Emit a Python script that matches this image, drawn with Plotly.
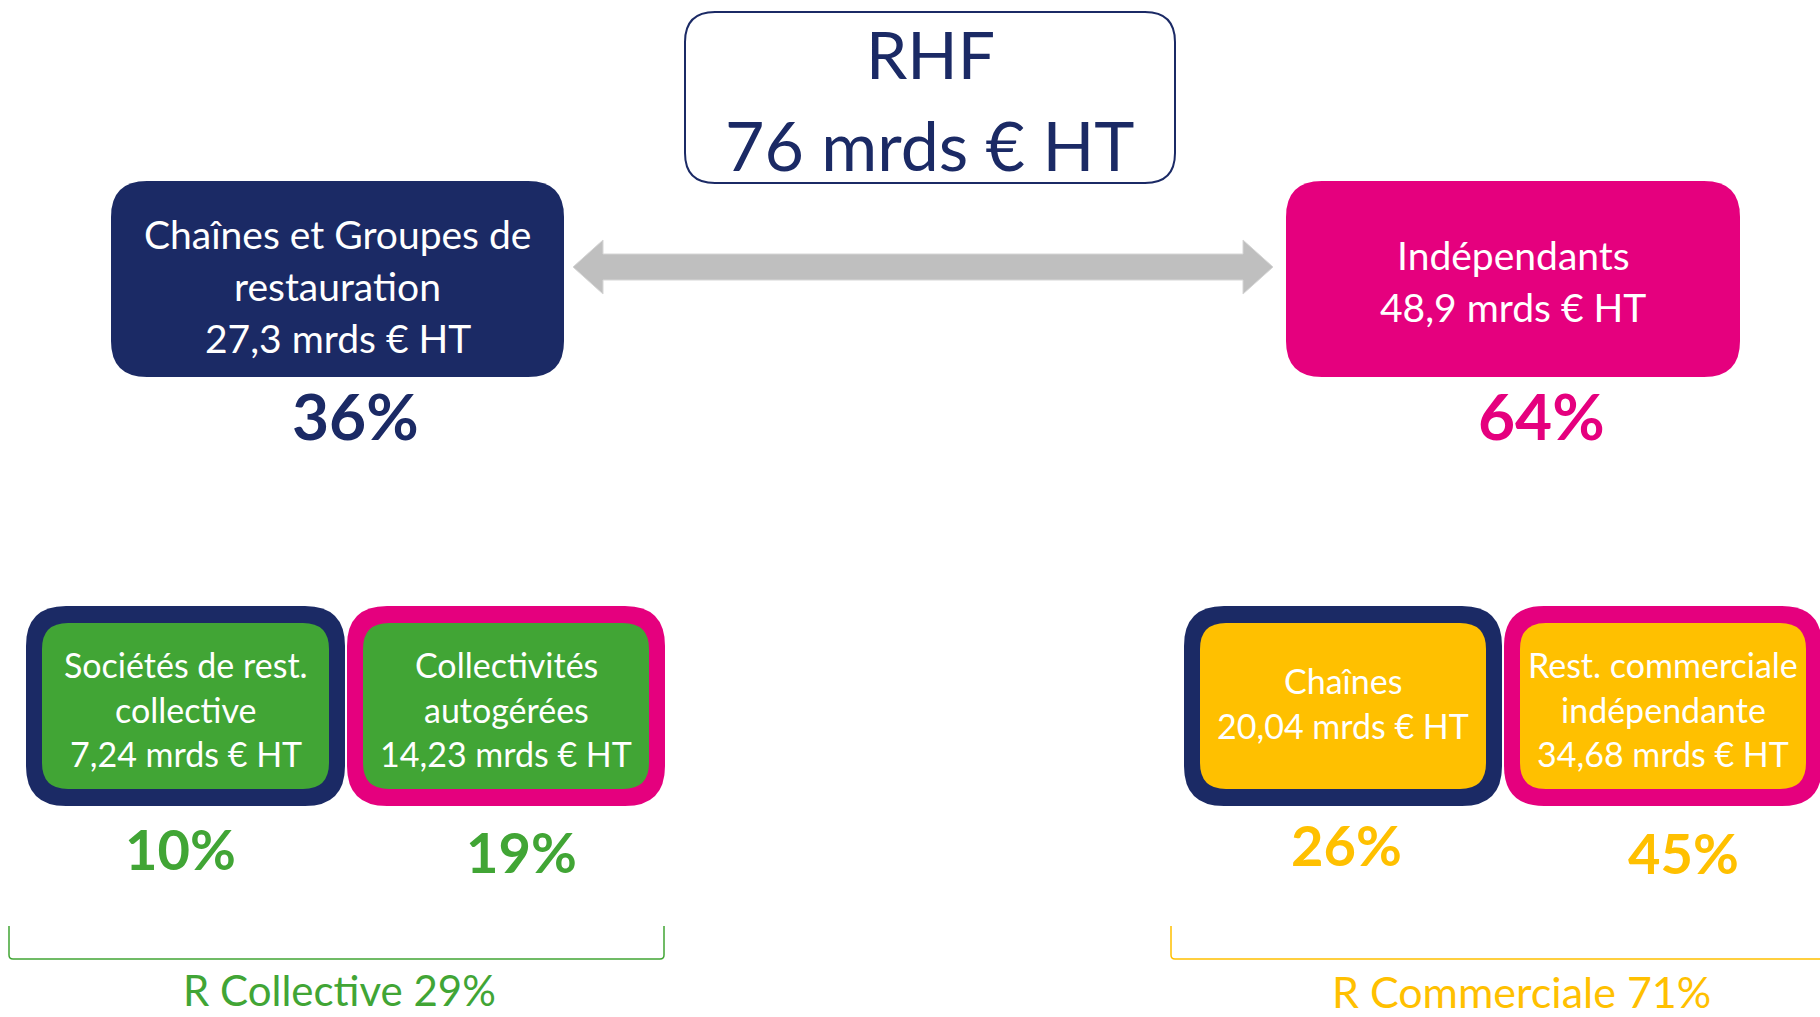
import plotly.graph_objects as go

# ---- data -----------------------------------------------------------------
TOTAL_LABEL = "RHF"
TOTAL_VALUE = "76"
UNIT = "mrds € HT"

SEGMENTS = ["Chaînes et Groupes de\nrestauration", "Indépendants"]
SEGMENT_VALUES = ["27,3", "48,9"]
SEGMENT_SHARES = [36, 64]

SUB_LABELS = ["Sociétés de rest.\ncollective", "Collectivités\nautogérées",
              "Chaînes", "Rest. commerciale\nindépendante"]
SUB_VALUES = ["7,24", "14,23", "20,04", "34,68"]
SUB_SHARES = [10, 19, 26, 45]

GROUPS = ["R Collective", "R Commerciale"]
GROUP_SHARES = [29, 71]

# ---- style ----------------------------------------------------------------
NAVY = "#1B2A65"
PINK = "#E5007E"
GREEN = "#41A535"
YELLOW = "#FFC000"
GREY = "#BFBFBF"
FONT = "Lato, Open Sans, sans-serif"

W, H = 1820, 1017

fig = go.Figure()
shapes = []
annotations = []


def rrect(x0, y0, x1, y1, r):
    return (f"M {x0+r} {y0} L {x1-r} {y0} Q {x1} {y0} {x1} {y0+r} "
            f"L {x1} {y1-r} Q {x1} {y1} {x1-r} {y1} L {x0+r} {y1} "
            f"Q {x0} {y1} {x0} {y1-r} L {x0} {y0+r} Q {x0} {y0} {x0+r} {y0} Z")


def box(x0, y0, x1, y1, r, fill, line=None, lw=0):
    shapes.append(dict(type="path", path=rrect(x0, y0, x1, y1, r),
                       fillcolor=fill, line=dict(color=line or fill, width=lw),
                       layer="below"))


def text(x, y, s, size, color, bold=False):
    if bold:
        s = f"<b>{s}</b>"
    annotations.append(dict(x=x, y=y, text=s, showarrow=False,
                            xanchor="center", yanchor="middle",
                            font=dict(family=FONT, size=size, color=color)))


def lines(cx, cy, label, value, size, spacing):
    rows = label.split("\n") + [f"{value} {UNIT}"]
    top = cy - spacing * (len(rows) - 1) / 2
    for i, row in enumerate(rows):
        text(cx, top + i * spacing, row, size, "white")


# top total box
box(685, 12, 1175, 183, 30, "white", NAVY, 2)
text(930, 53, TOTAL_LABEL, 66, NAVY)
text(930, 144, f"{TOTAL_VALUE} {UNIT}", 68, NAVY)

# double arrow
ax0, ax1, ay = 573, 1273, 267
hl, hw, sw = 30, 27, 13
shapes.append(dict(
    type="path",
    path=(f"M {ax0} {ay} L {ax0+hl} {ay-hw} L {ax0+hl} {ay-sw} L {ax1-hl} {ay-sw} "
          f"L {ax1-hl} {ay-hw} L {ax1} {ay} L {ax1-hl} {ay+hw} L {ax1-hl} {ay+sw} "
          f"L {ax0+hl} {ay+sw} L {ax0+hl} {ay+hw} Z"),
    fillcolor=GREY, line=dict(color="#D6D6D6", width=1)))

# segment boxes
seg_pos = [(111, 564), (1286, 1740)]
seg_col = [NAVY, PINK]
seg_pct = [(355, 415), (1541, 415)]
for i, (x0, x1) in enumerate(seg_pos):
    box(x0, 181, x1, 377, 36, seg_col[i])
    nrows = len(SEGMENTS[i].split("\n")) + 1
    lines((x0 + x1) / 2, 286 if nrows == 3 else 281, SEGMENTS[i],
          SEGMENT_VALUES[i], 39, 52)
    text(seg_pct[i][0], seg_pct[i][1], f"{SEGMENT_SHARES[i]}%", 64,
         seg_col[i], bold=True)

# sub boxes
sub_pos = [(26, 345), (347, 665), (1184, 1502), (1504, 1822)]
sub_border = [NAVY, PINK, NAVY, PINK]
sub_fill = [GREEN, GREEN, YELLOW, YELLOW]
sub_pct = [(180, 848), (521, 851), (1346, 844), (1683, 852)]
bt = 16
for i, (x0, x1) in enumerate(sub_pos):
    box(x0, 606, x1, 806, 40, sub_border[i])
    box(x0 + bt, 606 + bt + 1, x1 - bt, 806 - bt - 1, 26, sub_fill[i])
    nrows = len(SUB_LABELS[i].split("\n")) + 1
    lines((x0 + x1) / 2, 709 if nrows == 3 else 703, SUB_LABELS[i],
          SUB_VALUES[i], 34, 44.5)
    text(sub_pct[i][0], sub_pct[i][1], f"{SUB_SHARES[i]}%", 56,
         sub_fill[i], bold=True)

# brackets
shapes.append(dict(type="path",
                   path="M 9 926 L 9 955 Q 9 959 13 959 L 660 959 Q 664 959 664 955 L 664 926",
                   line=dict(color=GREEN, width=1.5)))
shapes.append(dict(type="path",
                   path="M 1171 926 L 1171 955 Q 1171 959 1175 959 L 1822 959",
                   line=dict(color=YELLOW, width=1.5)))
text(339, 990, f"{GROUPS[0]} {GROUP_SHARES[0]}%", 42, GREEN)
text(1521, 991, f"{GROUPS[1]} {GROUP_SHARES[1]}%", 43, YELLOW)

fig.update_layout(
    width=W, height=H,
    margin=dict(l=0, r=0, t=0, b=0),
    paper_bgcolor="white", plot_bgcolor="white",
    xaxis=dict(range=[0, W], visible=False, fixedrange=True),
    yaxis=dict(range=[H, 0], visible=False, fixedrange=True),
    shapes=shapes, annotations=annotations,
    showlegend=False,
)

# drop the browser's default 8px body margin so the canvas fills the window
fig.write_html("out.html",
               config={"displayModeBar": False},
               post_script="document.body.style.margin='0';"
                           "document.body.style.overflow='hidden';")
